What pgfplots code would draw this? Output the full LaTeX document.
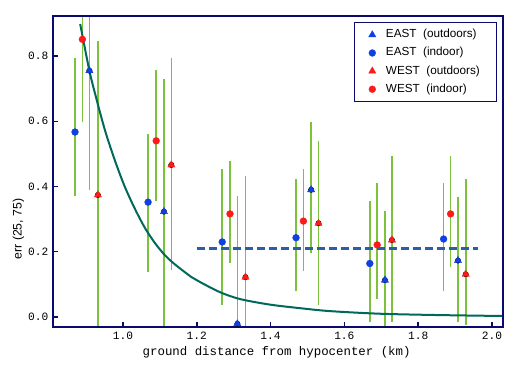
\documentclass[border=0pt]{standalone}
\usepackage{pgfplots}
\usepackage{pgfplotstable}
\pgfplotsset{compat=1.18}
\usepackage{fontspec}
\setmainfont{Liberation Sans}
\setmonofont{Liberation Mono}
\definecolor{navy}{HTML}{0A0A6E}
\definecolor{eastblue}{HTML}{1040E0}
\definecolor{westred}{HTML}{FF1A1A}
\definecolor{errgreen}{HTML}{7CC23A}
\definecolor{curveteal}{HTML}{00695C}
\definecolor{dashblue}{HTML}{2B5DA8}

\pgfplotstableread{
x y lo hi
0.909 0.755 0.390 1.000
1.111 0.323 -0.100 0.729
1.310 -0.021 -0.100 0.371
1.510 0.390 0.197 0.598
1.710 0.113 -0.100 0.326
1.908 0.173 -0.014 0.369
}\eastout

\pgfplotstableread{
x y lo hi
0.870 0.567 0.372 0.794
1.068 0.352 0.139 0.561
1.269 0.230 0.037 0.454
1.469 0.243 0.081 0.423
1.669 0.164 -0.014 0.356
1.869 0.239 0.081 0.410
}\eastin

\pgfplotstableread{
x y lo hi
0.932 0.374 -0.100 0.847
1.131 0.466 0.144 0.794
1.332 0.122 -0.100 0.433
1.530 0.287 0.037 0.540
1.729 0.236 -0.014 0.492
1.929 0.131 -0.025 0.422
}\westout

\pgfplotstableread{
x y lo hi
0.890 0.851 0.599 1.000
1.090 0.540 0.357 0.758
1.290 0.316 0.165 0.479
1.489 0.294 0.142 0.454
1.689 0.221 0.055 0.410
1.888 0.316 0.152 0.492
}\westin

\pgfplotsset{
  errbar/.style={only marks, mark=none, forget plot,
    error bars/.cd, y dir=both, y explicit, error mark=none,
    error bar style={draw=errgreen, line width=1.2pt}},
}

\begin{document}
\begin{tikzpicture}
\begin{axis}[
  scale only axis,
  width=337.5pt, height=233.25pt,
  xmin=0.8103, xmax=2.030,
  ymin=-0.0307, ymax=0.9226,
  axis on top,
  xtick={1,1.2,1.4,1.6,1.8,2},
  ytick={0,0.2,0.4,0.6,0.8},
  xtick pos=bottom, ytick pos=left,
  tick align=inside,
  major tick length=4pt,
  tick style={navy, line width=1.1pt},
  axis line style={navy, line width=1.5pt},
  /pgf/number format/.cd, fixed, fixed zerofill, precision=1, assume math mode=true,
  /pgfplots/.cd,
  tick label style={font=\ttfamily\fontsize{8.4}{10}\selectfont, black},
  xlabel={ground distance from hypocenter (km)},
  xlabel style={font=\ttfamily\fontsize{9.3}{11}\selectfont, at={(axis description cs:0.497,-0.0804)}, anchor=center},
  ylabel={err (25, 75)},
  ylabel style={font=\fontsize{9.2}{11}\selectfont, at={(axis description cs:-0.077,0.315)}, anchor=center},
  legend cell align=left,
  legend style={at={(axis description cs:0.987,0.981)}, anchor=north east,
    draw=navy, line width=0.9pt, fill=white,
    font=\fontsize{8.8}{10}\selectfont,
    inner xsep=10.5pt, inner ysep=3pt, row sep=1.1pt,
    nodes={inner sep=2pt, text height=6.5pt, text depth=2pt},
    /tikz/every odd column/.append style={column sep=5.5pt}},
]
% error bars
\addplot[errbar] table[x=x, y=y, y error plus expr=\thisrow{hi}-\thisrow{y}, y error minus expr=\thisrow{y}-\thisrow{lo}] {\eastout};
\addplot[errbar] table[x=x, y=y, y error plus expr=\thisrow{hi}-\thisrow{y}, y error minus expr=\thisrow{y}-\thisrow{lo}] {\eastin};
\addplot[errbar] table[x=x, y=y, y error plus expr=\thisrow{hi}-\thisrow{y}, y error minus expr=\thisrow{y}-\thisrow{lo}] {\westout};
\addplot[errbar] table[x=x, y=y, y error plus expr=\thisrow{hi}-\thisrow{y}, y error minus expr=\thisrow{y}-\thisrow{lo}] {\westin};
% fitted curve
\addplot[curveteal, line width=1.5pt, smooth, forget plot] coordinates {
(0.884,0.898) (0.908,0.760) (0.924,0.686) (0.951,0.573) (0.978,0.480)
(1.005,0.399) (1.033,0.330) (1.060,0.272) (1.087,0.226) (1.114,0.189)
(1.141,0.161) (1.186,0.122) (1.209,0.107) (1.263,0.076) (1.317,0.055)
(1.398,0.038) (1.480,0.027) (1.561,0.018) (1.696,0.010) (1.850,0.006)
(2.030,0.003)};
% dashed level
\addplot[dashblue, line width=1.6pt, dash pattern=on 6pt off 3pt, forget plot] coordinates {(1.2,0.21) (1.962,0.21)};
% markers
\addplot[only marks, mark=triangle*, mark size=3.2pt, color=eastblue, mark options={fill=eastblue, draw=eastblue, line width=0.2pt}] table[x=x, y=y] {\eastout};
\addlegendentry{EAST~~(outdoors)}
\addplot[only marks, mark=*, mark size=2.6pt, color=eastblue, mark options={fill=eastblue, draw=eastblue, line width=0.2pt}] table[x=x, y=y] {\eastin};
\addlegendentry{EAST~~(indoor)}
\addplot[only marks, mark=triangle*, mark size=3.2pt, color=westred, mark options={fill=westred, draw=westred, line width=0.2pt}] table[x=x, y=y] {\westout};
\addlegendentry{WEST~~(outdoors)}
\addplot[only marks, mark=*, mark size=2.6pt, color=westred, mark options={fill=westred, draw=westred, line width=0.2pt}] table[x=x, y=y] {\westin};
\addlegendentry{WEST~~(indoor)}
\end{axis}
\pgfresetboundingbox
\path (-39.75pt,-30.75pt) rectangle (353.25pt,245.25pt);
\end{tikzpicture}
\end{document}
